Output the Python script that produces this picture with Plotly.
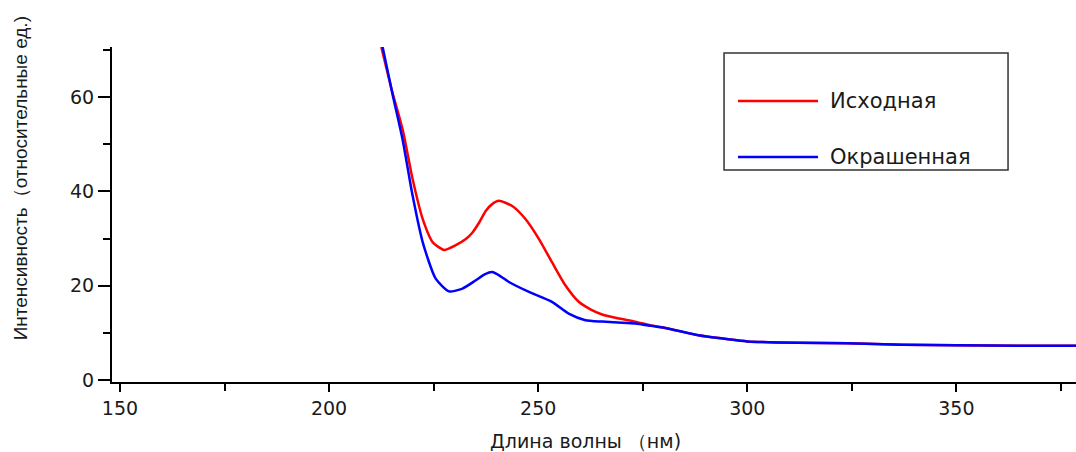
import plotly.graph_objects as go

# Wavelength (nm) and intensity for each spectrum
wl_orig = [212.5, 215.0, 217.6, 220.0, 222.4, 224.8, 227.5, 230.3, 232.7, 234.3, 235.9, 237.5, 239.0, 240.6,
           243.8, 247.0, 250.2, 253.3, 256.5, 259.7, 262.5, 265.3, 269.0, 273.2, 277.0, 281.2, 288.3,
           295.0, 300.0, 312.0, 324.0, 337.0, 350.0, 365.0, 378.6]
int_orig = [70.6, 61.5, 53.1, 42.5, 34.1, 29.2, 27.6, 28.6, 29.9, 31.3, 33.4, 35.9, 37.3, 38.0,
            36.9, 34.1, 29.9, 25.0, 20.1, 16.6, 15.0, 13.9, 13.1, 12.4, 11.6, 10.9, 9.5,
            8.7, 8.2, 7.9, 7.8, 7.5, 7.4, 7.3, 7.3]

wl_dyed = [212.8, 215.2, 217.6, 220.0, 222.4, 225.5, 228.7, 231.9, 235.0, 237.2, 239.0, 241.0, 243.0,
           247.8, 253.3, 257.3, 261.3, 265.3, 269.0, 273.2, 277.0, 281.2, 288.3,
           295.0, 300.0, 312.0, 324.0, 337.0, 350.0, 365.0, 378.6]
int_dyed = [70.6, 60.5, 50.9, 39.0, 29.2, 21.5, 18.8, 19.4, 21.1, 22.4, 22.9, 22.0, 20.8,
            18.7, 16.6, 14.1, 12.7, 12.4, 12.2, 12.0, 11.5, 10.9, 9.5,
            8.7, 8.2, 7.9, 7.8, 7.5, 7.4, 7.3, 7.3]

series_names = ["Исходная", "Окрашенная"]
series_colors = ["#ff0000", "#0000ff"]

x_title = "Длина волны （нм)"
y_title = "Интенсивность（относительные ед.)"
x_ticks = [150, 200, 250, 300, 350]
y_ticks = [0, 20, 40, 60]

fig = go.Figure()
fig.add_trace(go.Scatter(x=wl_orig, y=int_orig, mode="lines", name=series_names[0],
                         line=dict(color=series_colors[0], width=2.5, shape="spline", smoothing=0.6),
                         showlegend=False))
fig.add_trace(go.Scatter(x=wl_dyed, y=int_dyed, mode="lines", name=series_names[1],
                         line=dict(color=series_colors[1], width=2.5, shape="spline", smoothing=0.6),
                         showlegend=False))

tick_font = dict(family="DejaVu Sans", size=19, color="#1a1a1a")

fig.update_xaxes(range=[148.1, 378.6], tickvals=x_ticks, showgrid=False, zeroline=False,
                 showline=True, linecolor="black", linewidth=2,
                 ticks="outside", ticklen=8, tickwidth=2, tickcolor="black",
                 minor=dict(dtick=25, tick0=150, ticks="outside", ticklen=7, tickwidth=2, tickcolor="black"),
                 tickfont=tick_font)
fig.update_yaxes(range=[-0.4, 70.6], tickvals=y_ticks, showgrid=False, zeroline=False,
                 showline=True, linecolor="black", linewidth=2,
                 ticks="outside", ticklen=12, tickwidth=2, tickcolor="black",
                 minor=dict(dtick=10, tick0=0, ticks="outside", ticklen=7, tickwidth=2, tickcolor="black"),
                 tickfont=tick_font)

# axis titles as annotations for precise placement
fig.add_annotation(xref="paper", yref="paper", x=0.491, y=-0.175, text=x_title, showarrow=False,
                   font=dict(family="DejaVu Sans", size=19, color="#1a1a1a"), xanchor="center", yanchor="middle")
fig.add_annotation(xref="paper", yref="paper", x=-0.094, y=0.609, text=y_title, showarrow=False,
                   textangle=-90, font=dict(family="Liberation Sans", size=19, color="#1a1a1a"),
                   xanchor="center", yanchor="middle")

# legend box drawn manually
fig.add_shape(type="rect", xref="paper", yref="paper", x0=0.6349, x1=0.9295, y0=0.633, y1=0.982,
              line=dict(color="#333333", width=1.5), fillcolor="white", layer="above")
legend_y = [0.8388, 0.6716]
for name, color, yy in zip(series_names, series_colors, legend_y):
    fig.add_shape(type="line", xref="paper", yref="paper", x0=0.6494, x1=0.7324, y0=yy, y1=yy,
                  line=dict(color=color, width=2.5), layer="above")
    fig.add_annotation(xref="paper", yref="paper", x=0.7427, y=yy, text=name, showarrow=False,
                       xanchor="left", yanchor="middle",
                       font=dict(family="DejaVu Sans", size=21, color="#1a1a1a"))

fig.update_layout(width=1076, height=452, margin=dict(l=112, r=0, t=47, b=70),
                  plot_bgcolor="white", paper_bgcolor="white", showlegend=False)

fig.write_html("out.html")
